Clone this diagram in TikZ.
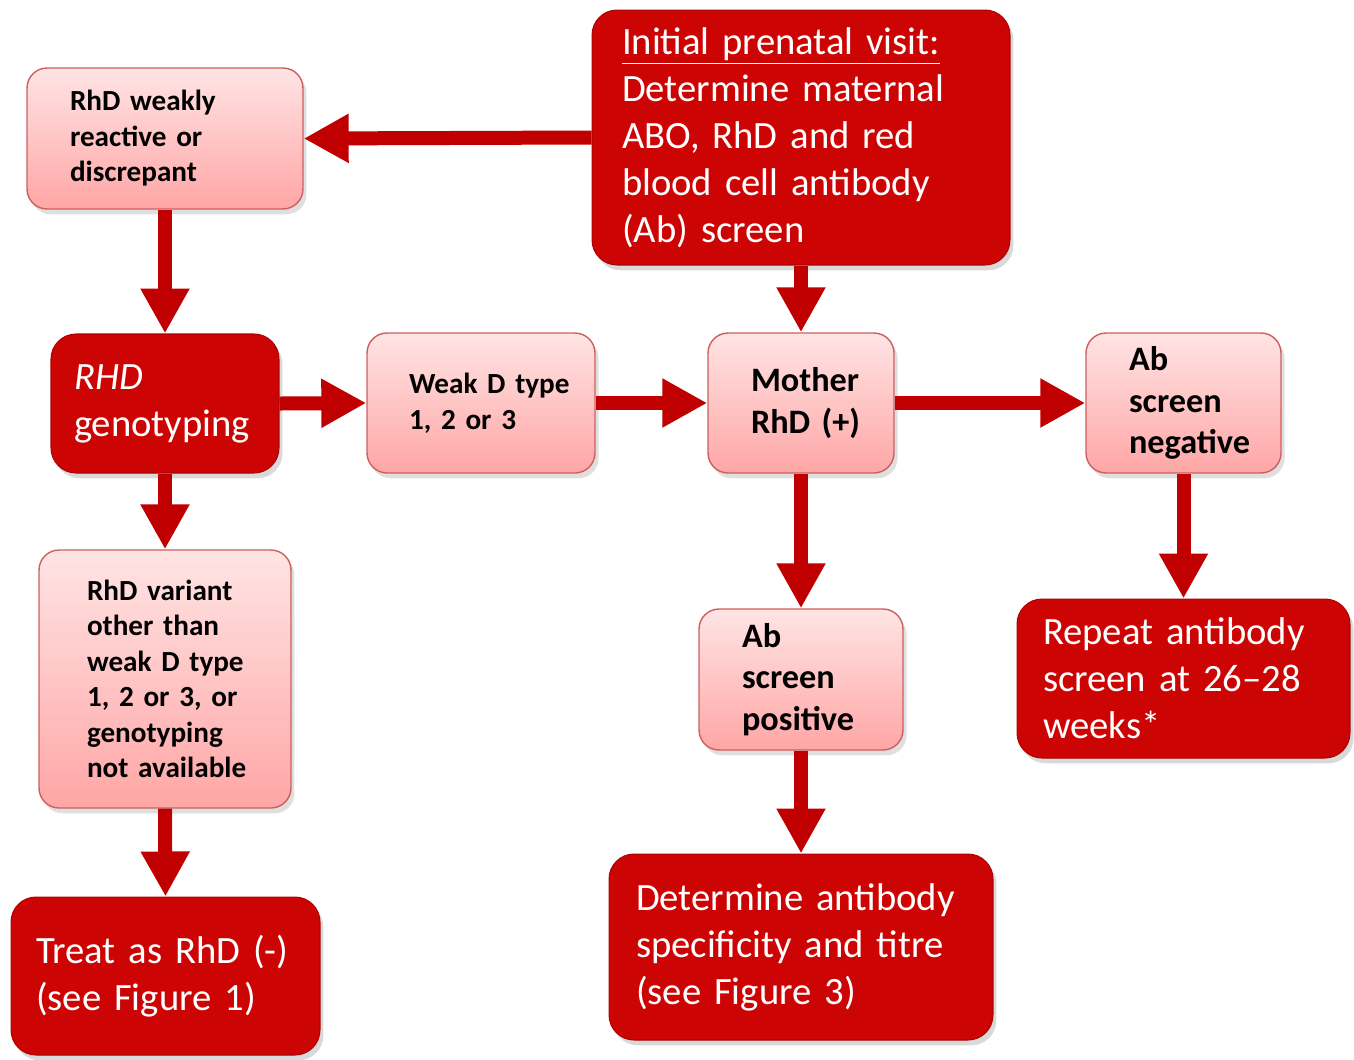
\documentclass[tikz,border=0pt]{standalone}
\usepackage{fontspec}
\setmainfont{Carlito}
\usepackage{tikz}
\usetikzlibrary{arrows.meta, shadows}
\usepackage{xcolor}
\definecolor{darkred}{RGB}{204,4,4}
\definecolor{arrowred}{RGB}{192,0,0}
\definecolor{pinktop}{RGB}{255,228,228}
\definecolor{pinkbot}{RGB}{255,166,166}
\definecolor{pinkline}{RGB}{205,95,95}

\begin{document}
\begin{tikzpicture}[
        x=0.02cm, y=-0.02cm,
        darkbox/.style={rectangle, rounded corners=0.5cm, fill=darkred,
            draw=darkred!85!black, line width=0.6pt, text=white, align=left,
            font=\fontsize{22}{26.75}\selectfont,
            drop shadow={opacity=0.3, shadow xshift=2pt, shadow yshift=-3pt}},
        pinkbox/.style={rectangle, rounded corners=0.4cm, top color=pinktop,
            bottom color=pinkbot, draw=pinkline, line width=0.8pt, align=left,
            font=\bfseries\fontsize{16.6}{20.2}\selectfont,
            drop shadow={opacity=0.25, shadow xshift=2pt, shadow yshift=-3pt}},
        bigpink/.style={pinkbox, font=\bfseries\fontsize{19.5}{23.6}\selectfont},
        flow/.style={arrowred, line width=0.28cm,
            -{Triangle[length=0.9cm, width=0.92cm]}}
    ]
        \useasboundingbox (0,0) rectangle (1354,1059);

        % Caixas
        \node[darkbox, minimum height=5.1cm, text width=7.16cm, inner xsep=0.6cm] (init) at (801,137.5)
            {\underline{Initial prenatal visit:}\\ Determine maternal\\ ABO, RhD and red\\ blood cell antibody\\ (Ab) screen};
        \node[pinkbox, minimum height=2.82cm, text width=3.8cm, inner xsep=0.86cm] (weak) at (165,138.5)
            {RhD weakly\\ reactive or\\ discrepant};
        \node[darkbox, minimum height=2.78cm, text width=3.64cm, inner xsep=0.46cm] (rhd) at (165,403.5)
            {\textit{RHD}\\ genotyping};
        \node[pinkbox, minimum height=2.8cm, text width=2.88cm, inner xsep=0.84cm] (weakd) at (481,403)
            {Weak~D~type\\ 1,~2~or~3};
        \node[bigpink, minimum height=2.8cm, text width=2.0cm, inner xsep=0.86cm] (mother) at (801,403)
            {Mother\\ RhD~(+)};
        \node[bigpink, minimum height=2.8cm, text width=2.18cm, inner xsep=0.86cm] (neg) at (1183.5,403)
            {Ab\\ screen\\ negative};
        \node[pinkbox, minimum height=5.16cm, text width=3.12cm, inner xsep=0.96cm] (variant) at (165,679)
            {\mbox{RhD variant}\\ \mbox{other than}\\ \mbox{weak D type}\\ \mbox{1, 2 or 3, or}\\ \mbox{genotyping}\\ \mbox{not available}};
        \node[bigpink, minimum height=2.82cm, text width=2.36cm, inner xsep=0.86cm] (pos) at (801,679.5)
            {Ab\\ screen\\ positive};
        \node[darkbox, minimum height=3.18cm, text width=5.62cm, inner xsep=0.52cm] (repeat) at (1183.5,678.5)
            {Repeat antibody\\ screen at 26--28\\ weeks*};
        \node[darkbox, minimum height=3.16cm, text width=5.18cm, inner xsep=0.5cm] (treat) at (165.5,976)
            {Treat as RhD (-)\\ (see Figure 1)};
        \node[darkbox, minimum height=3.72cm, text width=6.6cm, inner xsep=0.54cm] (det) at (801,947)
            {Determine antibody\\ specificity and titre\\ (see Figure 3)};

        % Setas
        \draw[flow] (init.west) -- (weak.east);
        \draw[flow] (weak.south) -- (rhd.north);
        \draw[flow] (init.south) -- (mother.north);
        \draw[flow] (rhd.east) -- (weakd.west);
        \draw[flow] (weakd.east) -- (mother.west);
        \draw[flow] (mother.east) -- (neg.west);
        \draw[flow] (rhd.south) -- (variant.north);
        \draw[flow] (variant.south) -- (treat.north);
        \draw[flow] (mother.south) -- (pos.north);
        \draw[flow] (neg.south) -- (repeat.north);
        \draw[flow] (pos.south) -- (det.north);
    \end{tikzpicture}
\end{document}
